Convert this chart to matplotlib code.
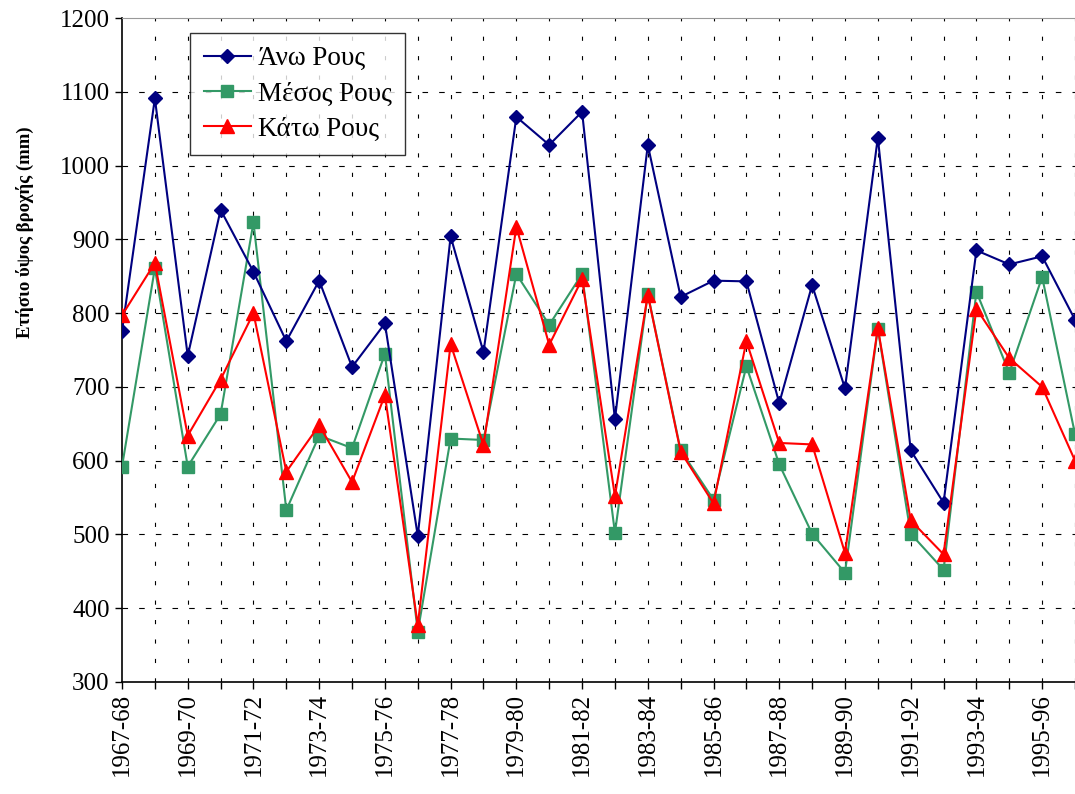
import matplotlib
matplotlib.use("Agg")
import matplotlib.pyplot as plt
import numpy as np

plt.rcParams["font.family"] = ["Liberation Serif", "DejaVu Serif"]
plt.rcParams["lines.scale_dashes"] = False

# ── δεδομένα ─────────────────────────────────────────────
years = [f"{y}-{str(y + 1)[-2:]}" for y in range(1967, 1997)]

ano_rous = [776, 1091, 742, 940, 856, 762, 844, 727, 786, 498,
            904, 747, 1066, 1028, 1073, 656, 1028, 822, 844, 843,
            678, 838, 698, 1038, 614, 543, 885, 866, 877, 791]
mesos_rous = [592, 861, 592, 663, 923, 533, 634, 617, 745, 368,
              630, 628, 853, 784, 853, 502, 826, 614, 547, 728,
              595, 501, 448, 779, 501, 452, 829, 719, 849, 636]
kato_rous = [797, 868, 634, 710, 800, 585, 648, 571, 689, 377,
             758, 621, 917, 757, 846, 552, 825, 612, 542, 762,
             624, 622, 475, 780, 519, 473, 806, 739, 700, 600]

x = np.arange(len(years))

fig = plt.figure(figsize=(10.75, 7.94), dpi=100)
ax = fig.add_axes([0.1135, 0.1411, 0.8865, 0.8362])

ax.plot(x, ano_rous, color="#000080", lw=1.5, marker="D", ms=7.5,
        label="Άνω Ρους", zorder=5)
ax.plot(x, mesos_rous, color="#339966", lw=1.5, marker="s", ms=9,
        label="Μέσος Ρους", zorder=4)
ax.plot(x, kato_rous, color="#FF0000", lw=1.5, marker="^", ms=10.5,
        label="Κάτω Ρους", zorder=6)

ax.set_xlim(0, 29)
ax.set_ylim(300, 1200)
ax.set_yticks(np.arange(300, 1201, 100))

# πλέγμα
for yv in range(400, 1200, 100):
    ax.axhline(yv, color="black", lw=0.8, dashes=(4, 8), zorder=1)
for xv in x[1:]:
    ax.axvline(xv, color="black", lw=0.8, dashes=(3, 11), zorder=1)

ax.set_xticks(x)
ax.set_xticklabels([lab if i % 2 == 0 else "" for i, lab in enumerate(years)],
                   rotation=90)
ax.tick_params(axis="both", direction="out", length=5, width=1, labelsize=18)
ax.tick_params(axis="x", pad=3)
ax.tick_params(axis="y", pad=4)

ax.set_ylabel("Ετήσιο ύψος βροχής (mm)", fontsize=13.5, fontweight="bold")
ax.yaxis.set_label_coords(-0.092, 0.678)

ax.spines["right"].set_visible(False)
ax.spines["top"].set_color("#999999")
ax.spines["left"].set_linewidth(1.2)
ax.spines["bottom"].set_linewidth(1.2)

leg = ax.legend(loc="upper left", bbox_to_anchor=(0.0714, 0.978), borderaxespad=0,
                fontsize=19.5, frameon=True, fancybox=False, handlelength=1.75,
                borderpad=0.5, labelspacing=0.38, handletextpad=0.25)
leg.get_frame().set_edgecolor("black")
leg.get_frame().set_linewidth(1.0)

plt.savefig("out.png", dpi=100)
plt.close()
